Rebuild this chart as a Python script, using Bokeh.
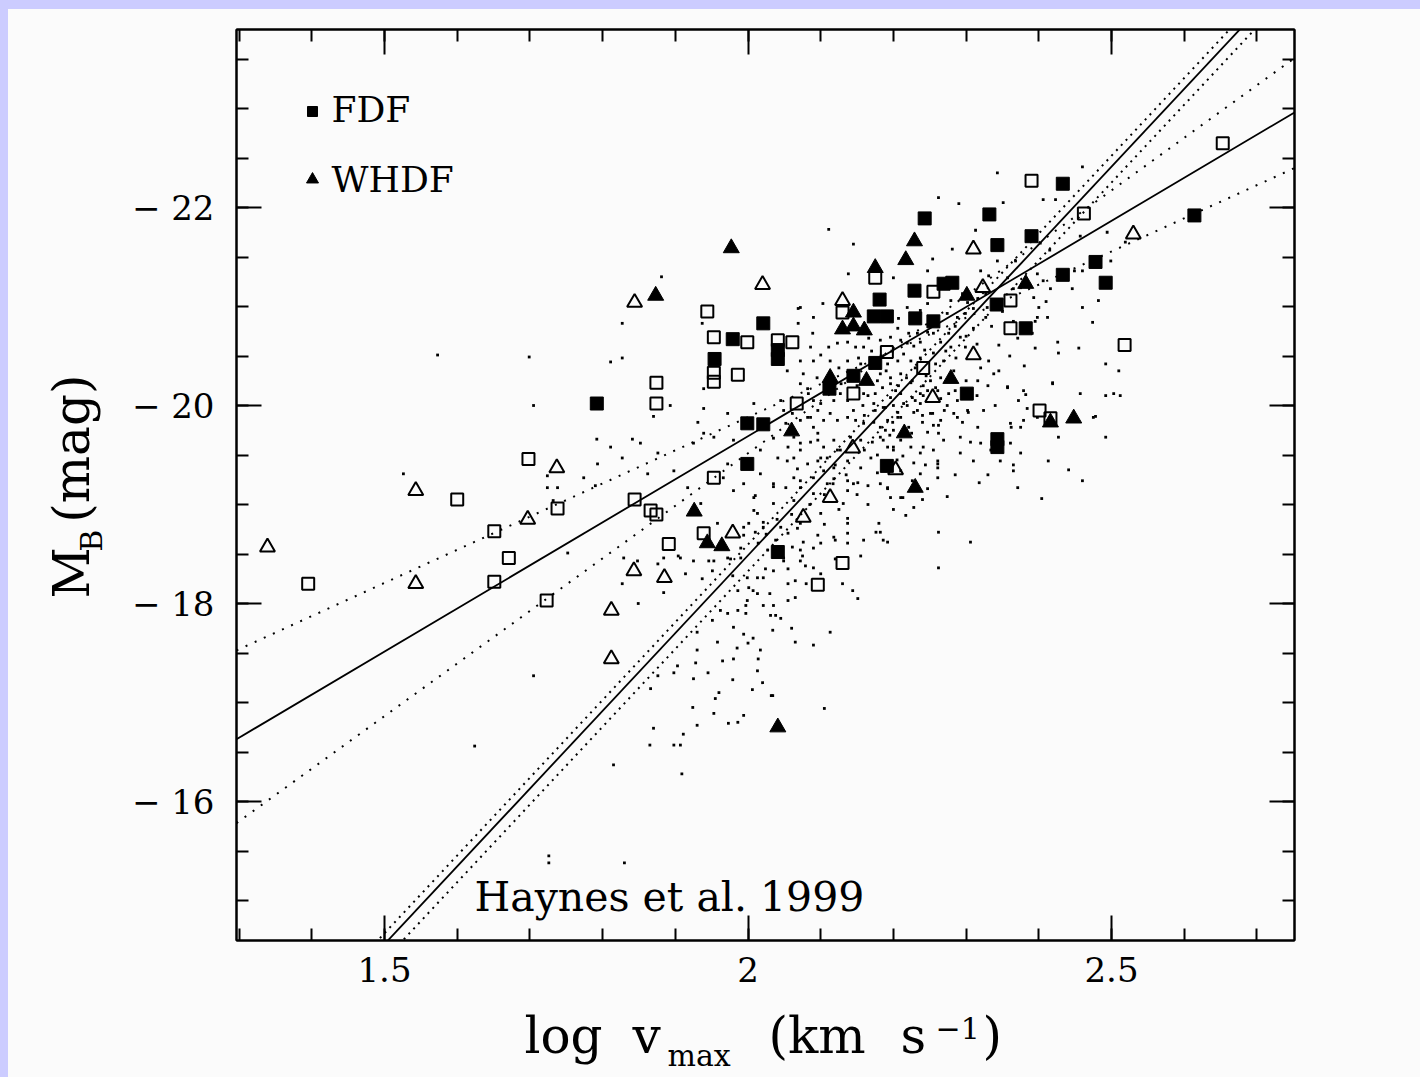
import numpy as np
from bokeh.plotting import figure
from bokeh.models import Range1d, FixedTicker, LinearAxis, Spacer
from bokeh.layouts import column, row
from bokeh.core.properties import value
from bokeh.embed import file_html
from bokeh.resources import INLINE

# ---------------- data (log v_max, M_B) ----------------
fdf_filled_logv = [1.792, 2.021, 1.979, 2.041, 2.041, 1.954, 1.999, 2.021, 1.999, 2.041,
                   2.433, 2.243, 2.332, 2.390, 2.343, 2.478, 2.433, 2.492, 2.269, 2.281,
                   2.229, 2.181, 2.342, 2.173, 2.191, 2.230, 2.255, 2.382, 2.175, 2.145,
                   2.112, 2.301, 2.343, 2.343, 2.191, 2.614]
fdf_filled_mb = [-20.02, -20.83, -20.67, -20.56, -20.47, -20.47, -19.82, -19.81, -19.41, -18.52,
                 -22.24, -21.89, -21.93, -21.71, -21.62, -21.45, -21.32, -21.24, -21.23, -21.24,
                 -21.16, -21.07, -21.02, -20.90, -20.90, -20.88, -20.85, -20.78, -20.43, -20.30,
                 -20.17, -20.12, -19.66, -19.58, -19.39, -21.92]

fdf_open_logv = [1.395, 1.600, 1.651, 1.671, 1.651, 1.698, 1.738, 1.723, 1.874, 1.874,
                 1.844, 1.866, 1.874, 1.939, 1.891, 2.130, 2.096, 1.944, 1.953, 1.999,
                 2.041, 2.061, 1.953, 1.953, 1.986, 2.067, 1.953, 2.130, 2.390, 2.462,
                 2.175, 2.255, 2.361, 2.361, 2.518, 2.191, 2.241, 2.145, 2.401, 2.416,
                 2.653]
fdf_open_mb = [-18.20, -19.05, -18.73, -18.46, -18.22, -19.46, -18.96, -18.03, -20.23, -20.02,
               -19.05, -18.94, -18.90, -18.71, -18.60, -18.41, -18.19, -20.95, -20.69, -20.64,
               -20.66, -20.64, -20.33, -20.24, -20.31, -20.02, -19.27, -20.94, -22.27, -21.94,
               -21.29, -21.15, -21.06, -20.78, -20.61, -20.54, -20.38, -20.12, -19.95, -19.87,
               -22.65]

whdf_filled_logv = [1.873, 1.977, 2.130, 2.145, 2.160, 2.113, 2.163, 2.060, 1.926, 1.944,
                    1.964, 2.230, 2.041, 2.229, 2.217, 2.175, 2.382, 2.301, 2.145, 2.279,
                    2.215, 2.448, 2.416]
whdf_filled_mb = [-21.11, -21.59, -20.77, -20.80, -20.76, -20.28, -20.25, -19.74, -18.93, -18.61,
                  -18.58, -19.17, -16.75, -21.66, -21.47, -21.39, -21.23, -21.11, -20.94, -20.27,
                  -19.72, -19.87, -19.83]

whdf_open_logv = [1.339, 1.543, 1.543, 1.737, 1.697, 1.843, 1.812, 1.812, 1.885, 2.020,
                  1.844, 2.130, 1.979, 2.076, 2.113, 2.310, 2.323, 2.310, 2.254, 2.144,
                  2.203, 2.530]
whdf_open_mb = [-18.57, -19.14, -18.20, -19.37, -18.85, -18.33, -17.93, -17.44, -18.26, -21.22,
                -21.04, -21.06, -18.71, -18.87, -19.07, -21.58, -21.19, -20.51, -20.08, -19.57,
                -19.35, -21.73]

# Haynes et al. 1999 local sample (log v_max, M_B)
haynes_points = [
    (2.010, -19.09), (2.035, -19.18), (2.052, -19.17), (2.072, -19.17), (2.090, -19.11),
    (2.117, -19.21), (2.137, -19.14), (2.145, -19.21), (2.165, -19.19), (2.192, -19.17),
    (2.210, -19.07), (2.228, -18.97), (2.217, -18.89), (2.192, -18.62), (2.176, -18.72),
    (2.180, -18.81), (2.159, -18.64), (2.155, -18.48), (2.137, -18.86), (2.137, -18.71),
    (2.120, -18.64), (2.096, -18.69), (2.090, -18.56), (2.076, -18.62), (2.075, -18.48),
    (2.079, -18.38), (2.090, -18.36), (2.055, -18.20), (2.065, -18.23), (2.072, -18.43),
    (2.049, -18.43), (2.065, -18.06), (2.055, -18.03), (2.035, -18.33), (2.024, -18.35),
    (2.021, -18.26), (2.013, -18.26), (2.007, -18.13), (2.013, -18.10), (1.999, -18.03),
    (1.997, -17.98), (1.997, -17.90), (2.021, -17.98), (2.035, -17.98), (2.031, -17.88),
    (2.038, -17.88), (2.034, -17.73), (2.007, -17.65), (1.994, -17.69), (1.980, -17.76),
    (1.986, -17.93), (1.972, -17.90), (1.962, -17.93), (1.951, -17.83), (1.930, -17.71),
    (1.958, -17.61), (1.930, -17.53), (1.928, -17.40), (1.925, -17.24), (1.965, -17.42),
    (1.980, -17.44), (2.014, -17.44), (2.017, -17.53), (2.013, -17.32), (1.979, -17.23),
    (2.006, -17.13), (2.034, -17.07), (1.955, -17.04), (1.953, -16.89), (1.924, -16.95),
    (1.994, -16.87), (1.986, -16.80), (1.973, -16.79), (1.930, -16.77), (1.870, -16.74),
    (1.911, -16.68), (1.865, -16.57), (1.898, -16.57), (1.907, -16.57), (1.815, -16.37),
    (1.909, -16.28), (1.898, -17.30), (1.866, -17.14), (1.876, -17.27), (1.849, -18.00),
    (1.884, -18.11), (1.904, -18.48), (1.914, -18.30), (1.937, -18.25), (1.946, -18.43),
    (1.951, -18.33), (1.976, -18.45), (1.990, -18.56), (1.994, -18.69), (2.001, -18.81),
    (2.013, -18.91), (2.021, -18.82), (2.010, -18.72), (2.014, -18.61), (2.027, -18.54),
    (1.999, -18.26), (1.986, -18.13), (2.001, -18.16), (1.979, -18.28), (2.068, -18.76),
    (2.055, -18.71), (2.045, -18.77), (2.061, -18.57), (2.038, -18.64), (2.144, -18.13),
    (2.151, -18.05), (2.130, -18.20), (2.113, -17.71), (2.090, -17.58), (2.065, -17.61),
    (2.105, -16.94), (2.032, -17.07), (1.903, -17.37), (1.827, -18.20),
    (2.185, -20.18), (2.196, -20.22), (2.207, -20.20), (2.224, -20.23), (2.241, -20.20),
    (2.258, -20.18), (2.241, -20.10), (2.226, -20.08), (2.210, -20.12), (2.196, -20.08),
    (2.189, -19.98), (2.206, -19.93), (2.219, -20.00), (2.237, -20.02), (2.265, -20.07),
    (2.274, -20.00), (2.283, -19.92), (2.295, -19.83), (2.303, -19.93), (2.340, -20.00),
    (2.357, -20.19), (2.372, -20.05), (2.382, -20.11), (2.419, -20.22), (2.492, -20.10),
    (2.478, -19.89), (2.379, -19.85), (2.362, -19.78), (2.316, -19.78), (2.262, -19.80),
    (2.251, -19.92), (2.228, -19.93), (2.240, -19.83), (2.221, -19.78), (2.210, -19.88),
    (2.199, -19.83), (2.189, -19.75), (2.200, -19.75), (2.247, -19.73), (2.262, -19.72),
    (2.186, -19.65), (2.192, -19.58), (2.200, -19.58), (2.213, -19.49), (2.241, -19.58),
    (2.228, -19.42), (2.244, -19.40), (2.261, -19.41), (2.261, -19.37), (2.210, -19.34),
    (2.192, -19.16), (2.247, -19.16), (2.196, -19.07), (2.213, -19.07), (2.274, -19.08),
    (2.318, -19.22), (2.365, -19.40), (2.371, -19.17), (2.404, -19.06), (2.441, -19.35),
    (2.460, -19.24), (2.262, -18.72), (2.306, -18.62), (2.186, -18.64), (2.262, -18.36),
    (2.182, -18.72),
    (2.343, -22.35), (2.460, -22.41), (2.406, -22.08), (2.423, -22.08), (2.290, -22.04),
    (2.262, -22.10), (2.351, -22.05), (2.111, -21.78), (2.145, -21.63), (2.281, -21.58),
    (2.313, -21.77), (2.368, -21.46), (2.402, -21.64), (2.415, -21.57), (2.457, -21.71),
    (2.494, -21.75), (2.519, -21.65), (2.449, -21.36), (2.460, -21.36), (2.499, -21.46),
    (2.138, -21.33), (2.200, -21.29), (2.247, -21.36), (2.254, -21.48), (2.320, -21.36),
    (2.331, -21.31), (2.343, -21.46), (2.357, -21.29), (2.398, -21.33), (2.406, -21.26),
    (2.416, -21.18), (2.446, -21.18), (2.460, -20.99), (2.474, -20.84), (2.365, -21.18),
    (2.375, -21.19), (2.393, -21.09), (2.400, -20.99), (2.398, -20.89), (2.412, -20.89),
    (2.426, -20.64), (2.427, -20.53), (2.455, -20.58), (2.492, -20.42), (2.395, -20.58),
    (2.391, -20.73), (2.371, -20.68), (2.345, -20.61), (2.331, -20.45), (2.338, -20.32),
    (2.357, -20.18), (2.379, -20.15), (2.419, -20.23), (2.384, -19.97), (2.361, -19.82),
    (2.288, -19.88), (2.302, -19.95), (2.324, -19.95), (2.276, -20.12), (2.254, -19.92),
    (2.265, -19.85), (2.288, -20.05), (2.316, -20.25), (2.320, -20.38), (2.299, -20.59),
    (2.279, -20.59), (2.265, -20.64), (2.255, -20.73), (2.276, -20.73), (2.292, -20.69),
    (2.310, -20.78), (2.327, -20.89), (2.329, -20.99), (2.288, -20.89), (2.274, -20.93),
    (2.299, -20.93), (2.302, -21.04), (2.295, -21.13), (2.316, -21.08), (2.327, -21.13),
    (2.279, -21.06), (2.247, -21.03), (2.237, -20.96), (2.219, -20.99), (2.207, -20.88),
    (2.206, -20.78), (2.221, -20.73), (2.233, -20.73), (2.247, -20.74), (2.237, -20.64),
    (2.219, -20.63), (2.210, -20.66), (2.196, -20.69), (2.182, -20.66), (2.166, -20.68),
    (2.159, -20.59), (2.148, -20.59), (2.137, -20.64), (2.123, -20.63), (2.111, -20.59),
    (2.100, -20.51), (2.090, -20.45), (2.076, -20.32), (2.072, -20.22), (2.083, -20.12),
    (2.090, -20.05), (2.096, -19.95), (2.086, -19.88), (2.072, -19.85), (2.061, -19.92),
    (2.052, -19.82), (2.104, -19.85), (2.113, -19.92), (2.123, -19.85), (2.137, -19.88),
    (2.148, -19.85), (2.159, -19.82), (2.173, -19.83), (2.182, -19.78), (2.192, -19.85),
    (2.206, -19.88), (2.233, -19.95), (2.230, -20.05), (2.214, -20.02), (2.200, -20.00),
    (2.186, -19.98), (2.173, -20.02), (2.158, -20.00), (2.137, -20.05), (2.127, -20.12),
    (2.159, -20.12), (2.175, -20.12), (2.196, -20.28), (2.210, -20.32), (2.226, -20.25),
    (2.206, -20.45), (2.192, -20.42), (2.182, -20.32), (2.169, -20.38), (2.155, -20.42),
    (2.137, -20.45), (2.125, -20.38), (2.113, -20.45), (2.224, -20.45), (2.237, -20.48),
    (2.255, -20.53), (2.269, -20.45), (2.283, -20.35), (2.265, -20.28), (2.251, -20.25),
    (2.261, -20.15), (2.247, -20.15), (2.237, -20.12), (2.141, -19.68), (2.155, -19.65),
    (2.171, -19.63), (2.182, -19.68), (2.200, -19.55), (2.224, -19.58), (2.237, -19.52),
    (2.255, -19.55), (2.261, -19.44), (2.269, -19.65), (2.292, -19.68), (2.306, -19.63),
    (2.320, -19.62), (2.292, -19.52), (2.310, -19.44), (2.334, -19.55), (2.361, -19.62),
    (2.375, -19.78), (2.398, -19.88), (2.427, -19.68), (2.457, -20.12), (2.475, -19.88),
    (2.503, -20.12), (2.492, -19.68), (2.413, -19.44), (2.375, -19.52), (2.347, -19.44),
    (2.365, -19.34), (2.096, -19.72), (2.086, -19.63), (2.072, -19.55), (2.063, -19.68),
    (2.104, -19.58), (2.118, -19.65), (2.127, -19.55), (2.109, -19.47), (2.096, -19.44),
    (2.082, -19.41), (2.068, -19.36), (2.054, -19.44), (2.137, -19.44), (2.155, -19.37),
    (2.169, -19.47), (2.178, -19.32), (2.237, -19.31), (2.261, -19.27), (2.226, -19.24),
    (2.072, -19.24), (2.118, -19.26), (2.151, -19.22), (2.182, -19.21), (2.104, -19.34),
    (2.072, -20.99), (2.090, -20.89), (2.103, -21.03), (2.089, -20.73), (2.072, -20.45),
    (2.086, -20.59),
    (1.881, -21.30), (1.827, -20.83), (1.699, -20.49), (1.811, -20.44), (1.827, -20.48),
    (1.705, -20.00), (1.792, -19.66), (1.841, -19.66), (1.870, -19.89), (1.893, -20.00),
    (1.939, -19.97), (1.939, -20.17), (1.972, -19.92), (1.937, -20.83), (2.069, -20.98),
    (2.069, -20.83), (2.054, -20.35), (2.082, -20.17), (2.045, -20.05), (2.008, -20.02),
    (1.931, -19.83), (1.939, -19.72), (1.925, -19.62), (1.953, -19.68), (1.980, -19.65),
    (2.049, -19.95), (2.082, -19.88), (2.100, -20.02), (2.090, -19.78), (2.096, -19.65),
    (2.072, -19.62), (2.055, -19.58), (2.035, -19.67), (2.017, -19.55), (2.041, -19.47),
    (2.063, -19.47), (2.100, -19.47), (2.123, -19.55), (2.118, -19.37), (2.090, -19.27),
    (2.063, -19.27), (2.035, -19.21), (2.017, -19.31), (1.994, -19.21), (1.972, -19.41),
    (1.966, -19.27), (1.980, -19.14), (2.008, -19.07), (2.035, -19.01), (2.063, -19.04),
    (2.109, -19.21), (2.137, -19.24), (2.131, -19.01), (2.100, -18.91), (2.072, -18.81),
    (2.021, -18.77), (2.008, -18.94), (1.994, -18.77), (1.958, -18.81), (1.935, -19.01),
    (1.917, -19.17), (1.898, -19.34), (1.876, -19.52), (1.852, -19.62), (1.827, -19.47),
    (1.811, -19.58), (1.793, -19.41), (1.774, -19.27), (1.790, -19.19), (1.738, -19.17),
    (1.724, -19.29), (1.862, -19.31), (2.100, -18.61), (2.118, -18.67), (2.137, -18.81),
    (2.137, -18.61), (2.072, -18.54), (2.049, -18.46), (1.990, -18.46), (1.972, -18.46),
    (1.953, -18.43), (1.925, -18.43), (1.907, -18.46), (1.884, -18.46), (1.876, -18.40),
    (1.848, -18.43), (1.752, -18.51), (1.732, -19.04),
    (1.526, -19.31), (1.624, -16.56), (1.724, -19.17), (1.705, -17.27), (1.829, -18.46),
    (1.573, -20.51), (1.726, -15.45), (1.726, -15.38), (1.830, -15.38), (2.482, -21.06),
    (2.510, -20.35), (2.512, -20.10),
    # densest core (estimated)
    (2.150, -20.20), (2.165, -20.10), (2.178, -20.25), (2.190, -20.35), (2.203, -20.15),
    (2.218, -20.28), (2.230, -20.38), (2.245, -20.30), (2.258, -20.42), (2.272, -20.55),
    (2.286, -20.48), (2.300, -20.70), (2.315, -20.62), (2.335, -20.80), (2.350, -20.95),
    (2.365, -20.85), (2.340, -21.05), (2.310, -20.98), (2.285, -20.80), (2.260, -20.88),
    (2.243, -20.56), (2.228, -20.60), (2.214, -20.52), (2.198, -20.55), (2.183, -20.50),
    (2.170, -20.55), (2.152, -20.48), (2.140, -20.30), (2.128, -20.22), (2.118, -20.05),
    (2.105, -20.15), (2.095, -20.28), (2.145, -19.95), (2.160, -19.90), (2.175, -19.95),
    (2.195, -19.70), (2.210, -19.65), (2.225, -19.72), (2.240, -19.90), (2.255, -19.80),
    (2.270, -19.95), (2.285, -20.15), (2.300, -20.25), (2.315, -20.10), (2.330, -20.20),
    (2.345, -20.35), (2.360, -20.50), (2.380, -20.40), (2.395, -20.85), (2.410, -21.05),
    (2.160, -19.55), (2.178, -19.50), (2.205, -19.45), (2.120, -19.40), (2.135, -19.30),
    (2.150, -19.10), (2.165, -19.00), (2.105, -19.10), (2.085, -19.00), (2.060, -18.90),
    (2.040, -18.85), (2.025, -18.70), (2.055, -18.35), (2.080, -18.20), (2.100, -18.30),
    (2.120, -18.45), (2.030, -18.10), (2.045, -17.85), (2.060, -17.75), (2.000, -17.60),
    (1.985, -17.55), (2.020, -17.20), (1.960, -17.10), (1.945, -17.30), (2.105, -18.80),
    (2.125, -18.95), (2.200, -18.95), (2.240, -19.05), (2.285, -19.30), (2.330, -19.30),
]

# fitted relations  M_B = intercept + slope * log v_max
fit_slopes = [-4.35, -3.348, -5.31, -7.853, -7.853, -7.853]
fit_intercepts = [-10.99, -13.186, -8.898, -2.78, -2.89, -2.62]
fit_dotted = [False, True, True, False, True, True]

x_major_ticks = [1.5, 2.0, 2.5]
x_tick_labels = ["1.5", "2", "2.5"]
y_major_ticks = [-22, -20, -18, -16]
y_tick_labels = ["\u2212 22", "\u2212 20", "\u2212 18", "\u2212 16"]

# ---------------- layout constants ----------------
BG = "#fbfbfb"
LAV = "#ccccff"
FONT = "DejaVu Serif"
X0, X1 = 1.2964, 2.7517
YB, YT = -14.596, -23.798
FL, FT, FW, FH = 236, 29, 1058, 911   # frame position on the page (px)
SPLIT_X = 128      # page x where main figure starts
SPLIT_Y = 1000     # page y where x-title strip starts
PAGE_W, PAGE_H = 1420, 1077
LAV_TOP, LAV_LEFT = 9, 8


def dx(px):
    return X0 + (px - FL) / FW * (X1 - X0)


def dy(py):
    return YB + (FT + FH - py) / FH * (YT - YB)


main_w = PAGE_W - SPLIT_X
main_h = SPLIT_Y - LAV_TOP
p = figure(width=main_w, height=main_h, x_range=Range1d(X0, X1), y_range=Range1d(YB, YT),
           output_backend="svg", toolbar_location=None,
           min_border_left=FL - SPLIT_X, min_border_right=PAGE_W - FL - FW,
           min_border_top=FT - LAV_TOP, min_border_bottom=SPLIT_Y - FT - FH,
           background_fill_color=BG, border_fill_color=BG,
           outline_line_color="black", outline_line_width=2,
           styles={"background-color": BG})
p.xgrid.visible = False
p.ygrid.visible = False

xt = FixedTicker(ticks=x_major_ticks, minor_ticks=[round(1.3 + 0.1 * i, 1) for i in range(15)])
yt = FixedTicker(ticks=y_major_ticks, minor_ticks=[-23.5 + 0.5 * i for i in range(18)])


def style_axis(ax, ticker, labels, show):
    ax.ticker = ticker
    ax.axis_line_color = "black"
    ax.axis_line_width = 2
    ax.major_tick_line_width = 2
    ax.minor_tick_line_width = 2
    ax.major_tick_in = 25
    ax.major_tick_out = 0
    ax.minor_tick_in = 12
    ax.minor_tick_out = 0
    ax.major_label_overrides = labels
    if show:
        ax.major_label_text_font = FONT
        ax.major_label_text_font_size = "34px"
        ax.major_label_text_color = "black"
    else:
        ax.major_label_text_font_size = "0px"
        ax.major_label_standoff = 0


style_axis(p.xaxis[0], xt, dict(zip(x_major_ticks, x_tick_labels)), True)
p.xaxis[0].major_label_standoff = 16
style_axis(p.yaxis[0], yt, dict(zip(y_major_ticks, y_tick_labels)), True)
p.yaxis[0].major_label_standoff = 22

top_ax = LinearAxis()
style_axis(top_ax, xt, {t: "" for t in x_major_ticks}, False)
p.add_layout(top_ax, "above")
right_ax = LinearAxis()
style_axis(right_ax, yt, {t: "" for t in y_major_ticks}, False)
p.add_layout(right_ax, "right")

# Haynes dots
hx = [a for a, b in haynes_points]
hy = [b for a, b in haynes_points]
p.scatter(hx, hy, marker="square", size=2.8, fill_color="black", line_color=None)

# fit lines
xs_line = [X0, X1]
for s, c, d in zip(fit_slopes, fit_intercepts, fit_dotted):
    ys = [c + s * x for x in xs_line]
    if d:
        dash = "2 8" if s > -7 else "2 5"
        p.line(xs_line, ys, line_color="black", line_width=2, line_dash=dash)
    else:
        p.line(xs_line, ys, line_color="black", line_width=1.8)

# galaxies
p.scatter(fdf_open_logv, fdf_open_mb, marker="square", size=12, fill_color=None,
          line_color="black", line_width=2)
p.scatter(whdf_open_logv, whdf_open_mb, marker="triangle", size=15, fill_color=None,
          line_color="black", line_width=2)
p.scatter(fdf_filled_logv, fdf_filled_mb, marker="square", size=13, fill_color="black",
          line_color="black", line_width=1)
p.scatter(whdf_filled_logv, whdf_filled_mb, marker="triangle", size=16, fill_color="black",
          line_color="black", line_width=1)

# legend
p.scatter([dx(312)], [dy(111)], marker="square", size=10, fill_color="black", line_color="black")
p.scatter([dx(312)], [dy(179)], marker="triangle", size=12, fill_color="black", line_color="black")


def txt(fig, xs, ys, texts, size, angle=0.0, align="left"):
    fig.text(x=xs, y=ys, text=texts, text_font=value(FONT), text_font_size=value(f"{size}px"),
             text_color="black", text_align=align, text_baseline="middle", angle=angle)


txt(p, [dx(331), dx(331)], [dy(109), dy(179)], ["FDF", "WHDF"], 36)
txt(p, [dx(474)], [dy(896)], ["Haynes et al. 1999"], 41)


def side_fig(w, h, xr, yr):
    f = figure(width=w, height=h, x_range=Range1d(*xr), y_range=Range1d(*yr),
               x_axis_location=None, y_axis_location=None, min_border=0,
               outline_line_color=None, background_fill_color=BG, border_fill_color=BG,
               toolbar_location=None, output_backend="svg", styles={"background-color": BG})
    f.xgrid.grid_line_color = None
    f.ygrid.grid_line_color = None
    return f


# y-axis title strip (page pixel coordinates), rotated text centred on its span
fy = side_fig(SPLIT_X - LAV_LEFT, main_h, (LAV_LEFT, SPLIT_X), (SPLIT_Y, LAV_TOP))
txt(fy, [71.5, 71.5], [600, 465], ["M", "(mag)"], 50, np.pi / 2, "center")
txt(fy, [90.5], [565], ["B"], 30, np.pi / 2, "center")

# x-axis title strip (page pixel coordinates)
fx = side_fig(PAGE_W - LAV_LEFT, PAGE_H - SPLIT_Y, (LAV_LEFT, PAGE_W), (PAGE_H, SPLIT_Y))
txt(fx, [524, 632, 768, 900, 982], [1035] * 5, ["log", "v", "(km", "s", ")"], 50)
txt(fx, [667], [1055], ["max"], 30)
txt(fx, [935], [1027], ["\u22121"], 30)

top_strip = Spacer(width=PAGE_W, height=LAV_TOP, styles={"background-color": LAV})
left_strip = Spacer(width=LAV_LEFT, height=PAGE_H - LAV_TOP, styles={"background-color": LAV})
body = column(row(fy, p, spacing=0), fx, spacing=0)
page = column(top_strip, row(left_strip, body, spacing=0), spacing=0)

open("out.html", "w").write(file_html(page, INLINE))
